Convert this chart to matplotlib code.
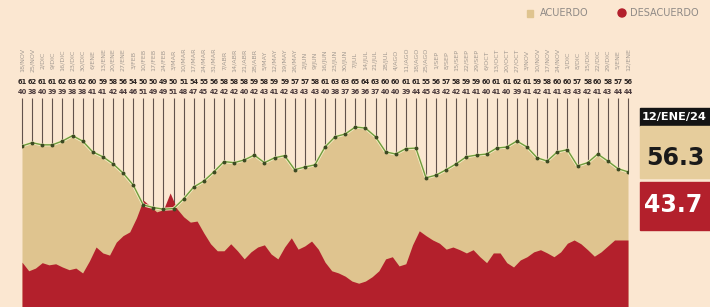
import numpy as np
import matplotlib
matplotlib.use('Agg')
import matplotlib.pyplot as plt
from matplotlib.patches import Rectangle, Ellipse

# Weekly poll values (%)
acuerdo = [61.1, 61.7, 61.3, 61.3, 62.0, 63.0, 62.0, 60.0, 59.1, 57.8,
           56.1, 53.9, 50.2, 49.7, 49.4, 49.5, 51.3, 53.5, 54.6, 56.3,
           58.2, 58.0, 58.5, 59.4, 58.0, 58.9, 59.3, 56.7, 57.2, 57.6,
           60.9, 62.8, 63.3, 64.6, 64.4, 62.8, 60.0, 59.6, 60.6, 60.7,
           55.2, 55.7, 56.7, 57.8, 59.1, 59.4, 59.6, 60.7, 60.9, 62.0,
           60.9, 58.9, 58.3, 60.0, 60.4, 57.4, 58.0, 59.6, 58.3, 56.9, 56.3]

desacuerdo = [39.6, 38.0, 38.5, 39.5, 39.1, 39.3, 38.7, 38.2, 38.5, 37.6,
              39.8, 42.4, 41.3, 40.9, 43.3, 44.5, 45.2, 47.8, 51.1, 50.0,
              48.9, 49.3, 52.4, 49.5, 48.0, 47.0, 47.2, 45.0, 43.0, 41.7,
              41.7, 43.0, 41.7, 40.2, 41.5, 42.4, 42.8, 41.1, 40.2, 42.4,
              44.1, 42.0, 42.6, 43.5, 42.0, 39.6, 38.0, 37.6, 37.0, 36.1,
              35.7, 36.1, 36.9, 38.0, 40.2, 40.6, 38.9, 39.3, 42.8, 45.4,
              44.5, 43.7, 43.1, 42.0, 42.4, 41.9, 41.3, 41.9, 40.6, 39.5,
              41.3, 41.3, 39.5, 38.7, 40.0, 40.6, 41.5, 41.9, 41.3, 40.6,
              41.5, 43.1, 43.7, 43.0, 41.9, 40.7, 41.5, 42.6, 43.7, 43.7, 43.7]

fechas = ['18/NOV', '25/NOV', '2/DIC', '9/DIC', '16/DIC', '23/DIC', '30/DIC',
          '6/ENE', '13/ENE', '20/ENE', '27/ENE', '3/FEB', '10/FEB', '17/FEB',
          '24/FEB', '3/MAR', '10/MAR', '17/MAR', '24/MAR', '31/MAR', '7/ABR',
          '14/ABR', '21/ABR', '28/ABR', '5/MAY', '12/MAY', '19/MAY', '26/MAY',
          '2/JUN', '9/JUN', '16/JUN', '23/JUN', '30/JUN', '7/JUL', '14/JUL',
          '21/JUL', '28/JUL', '4/AGO', '11/AGO', '18/AGO', '25/AGO', '1/SEP',
          '8/SEP', '15/SEP', '22/SEP', '29/SEP', '6/OCT', '13/OCT', '20/OCT',
          '27/OCT', '3/NOV', '10/NOV', '17/NOV', '24/NOV', '1/DIC', '8/DIC',
          '15/DIC', '22/DIC', '29/DIC', '5/ENE', '12/ENE']

ultima_fecha = '12/ENE/24'
ultimo_acuerdo = '56.3'
ultimo_desacuerdo = '43.7'

# Colours
bg = '#fbe7d1'
tan = '#dfc48f'
red = '#b3202c'
green = '#6f9a3c'

fig = plt.figure(figsize=(7.10, 3.07), dpi=100, facecolor=bg)
W, H = 710, 307

ax = fig.add_axes([22 / W, 0, 606 / W, 287 / H])
ax.set_facecolor(bg)
ax.set_xlim(0, 1)
ax.set_ylim(31.3, 84.4)
ax.axis('off')

xa = np.linspace(0, 1, len(acuerdo))
xd = np.linspace(0, 1, len(desacuerdo))

# Vertical guide lines from each point up to its label
ax.vlines(xa, acuerdo, 70.0, color='#62524c', lw=0.8, zorder=1, clip_on=False)

ax.fill_between(xa, acuerdo, 31.3, color=tan, lw=0, zorder=2)
ax.fill_between(xd, desacuerdo, 31.3, color=red, lw=0, zorder=3)
ax.plot(xa, acuerdo, color='#f6f0c8', lw=2.2, zorder=4)
ax.plot(xa, acuerdo, color=green, lw=1.0, zorder=5, marker='o', ms=1.8,
        mfc='#3d4a22', mec='#3d4a22')

# Column labels: dates (rotated, grey) and values (dark)
d_at_cols = np.interp(xa, xd, desacuerdo)
for x, f, a, d in zip(xa, fechas, acuerdo, d_at_cols):
    ax.text(x, 77.0, f, rotation=90, ha='center', va='center', fontsize=4.6,
            color='#a39a92', clip_on=False)
    ax.text(x, 72.9, '%d' % round(a), ha='center', va='center', fontsize=4.8,
            color='#2e2624', fontweight='bold', clip_on=False)
    ax.text(x, 71.0, '%d' % round(d), ha='center', va='center', fontsize=4.8,
            color='#4a3a3c', fontweight='bold', clip_on=False)

# Legend at the top right
fig.patches.append(Rectangle((527 / W, 1 - 17 / H), 6 / W, 7 / H,
                             transform=fig.transFigure, color=tan))
fig.text(540 / W, 1 - 13 / H, 'ACUERDO', fontsize=7, color='#8f8a86',
         va='center', ha='left')
fig.patches.append(Ellipse((622 / W, 1 - 13 / H), 8 / W, 8 / H,
                           transform=fig.transFigure, color=red))
fig.text(630 / W, 1 - 13 / H, 'DESACUERDO', fontsize=7, color='#8f8a86',
         va='center', ha='left')

# Latest value panel on the right
fig.patches.append(Rectangle((640 / W, 1 - 126 / H), 70 / W, 18 / H,
                             transform=fig.transFigure, color='#141414'))
fig.text(642 / W, 1 - 117 / H, ultima_fecha, fontsize=8.2, color='white',
         fontweight='bold', va='center', ha='left')
fig.patches.append(Rectangle((640 / W, 1 - 178 / H), 70 / W, 52 / H,
                             transform=fig.transFigure, color='#e6cd9c'))
fig.text(646 / W, 1 - 158 / H, ultimo_acuerdo, fontsize=17, color='#1a1a1a',
         fontweight='bold', va='center', ha='left')
fig.patches.append(Rectangle((640 / W, 1 - 230 / H), 70 / W, 48 / H,
                             transform=fig.transFigure, color=red))
fig.text(644 / W, 1 - 205 / H, ultimo_desacuerdo, fontsize=17, color='white',
         fontweight='bold', va='center', ha='left')

fig.savefig('out.png', dpi=100, facecolor=bg)
